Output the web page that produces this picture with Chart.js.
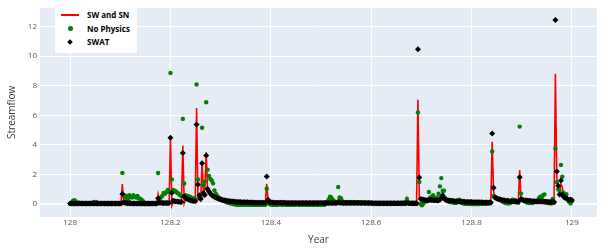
<!DOCTYPE html>
<html>
<head>
<meta charset="utf-8">
<script src="https://cdn.jsdelivr.net/npm/chart.js@4"></script>
<style>
  body { margin: 0; background: #fff; }
  #wrap { position: relative; width: 601px; height: 251px; }
  #legend { position: absolute; left: 55px; top: 8px; width: 82px; height: 45px; background: #fff;
    font-family: "Open Sans", sans-serif; font-weight: bold; font-size: 8px; color: #000; }
  .item { position: absolute; left: 32px; line-height: 10px; }
  .sym { position: absolute; }
</style>
</head>
<body>
<div id="wrap">
  <canvas id="chart" width="601" height="251"></canvas>
  <div id="legend">
    <div class="sym" style="left:6px;top:6px;width:18px;height:2px;background:#ff0000"></div>
    <div class="item" style="top:2px">SW and SN</div>
    <div class="sym" style="left:13px;top:18px;width:5px;height:5px;border-radius:50%;background:#008000"></div>
    <div class="item" style="top:16px">No Physics</div>
    <div class="sym" style="left:13px;top:32px;width:4px;height:4px;transform:rotate(45deg);background:#000"></div>
    <div class="item" style="top:29px">SWAT</div>
  </div>
</div>
<script>
// daily values, one per day of the year starting at 128
const startYear = 128;
const daysInYear = 365;

const swsn = [
  0.04,0.05,0.05,0.05,0.04,0.04,0.05,0.05,0.05,0.04,
  0.04,0.04,0.04,0.05,0.05,0.05,0.05,0.05,0.04,0.04,
  0.04,0.04,0.04,0.04,0.04,0.04,0.04,0.04,0.04,0.04,
  0.04,0.04,0.04,0.04,0.04,0.04,0.04,0.04,1.35,0.05,
  0.06,0.35,0.05,0.30,0.06,0.05,0.05,0.05,0.05,0.05,
  0.04,0.04,0.04,0.04,0.04,0.04,0.04,0.04,0.04,0.04,
  0.04,0.04,0.04,0.04,0.65,0.06,0.06,0.06,0.06,0.06,
  0.06,0.06,0.06,4.50,-0.10,0.15,0.14,0.14,0.13,0.13,
  0.12,0.12,3.95,0.05,0.30,0.28,0.25,0.23,0.21,0.19,
  0.18,0.17,6.49,0.30,0.45,0.30,2.90,0.70,1.00,3.50,
  0.90,0.80,0.68,0.58,0.51,0.45,0.41,0.37,0.34,0.31,
  0.28,0.26,0.24,0.22,0.21,0.20,0.19,0.18,0.17,0.16,
  0.15,0.14,0.14,0.13,0.13,0.12,0.12,0.11,0.11,0.11,
  0.10,0.10,0.10,0.10,0.09,0.09,0.09,0.09,0.09,0.09,
  0.09,0.09,0.09,1.38,0.20,0.12,0.10,0.10,0.09,0.09,
  0.09,0.08,0.08,0.08,0.08,0.08,0.08,0.07,0.07,0.07,
  0.07,0.07,0.07,0.07,0.07,0.07,0.07,0.07,0.07,0.07,
  0.06,0.06,0.06,0.06,0.06,0.06,0.06,0.06,0.06,0.06,
  0.06,0.06,0.06,0.06,0.06,0.06,0.06,0.06,0.06,0.06,
  0.07,0.07,0.07,0.07,0.07,0.30,0.08,0.07,0.07,0.07,
  0.07,0.07,0.07,0.07,0.07,0.06,0.06,0.06,0.06,0.06,
  0.06,0.06,0.06,0.06,0.06,0.06,0.06,0.06,0.06,0.06,
  0.05,0.05,0.05,0.05,0.05,0.05,0.05,0.05,0.05,0.05,
  0.05,0.05,0.05,0.05,0.05,0.05,0.05,0.05,0.05,0.05,
  0.05,0.05,0.05,0.05,0.05,0.40,0.06,0.05,0.05,0.05,
  0.05,0.05,0.05,7.05,0.45,0.28,0.26,0.25,0.24,0.24,
  0.24,0.25,0.50,0.26,0.24,0.23,0.23,0.22,0.23,0.50,
  0.35,0.45,0.32,0.27,0.24,0.22,0.21,0.20,0.19,0.18,
  0.18,0.17,0.17,0.16,0.16,0.15,0.14,0.14,0.13,0.13,
  0.12,0.12,0.12,0.11,0.11,0.11,0.10,0.10,0.10,0.10,
  0.09,0.09,0.09,0.09,0.09,0.09,0.09,4.22,0.90,0.38,
  0.34,0.31,0.28,0.26,0.24,0.22,0.21,0.20,0.19,0.18,
  0.17,0.16,0.16,0.15,0.15,0.14,0.14,2.31,0.30,0.26,
  0.23,0.22,0.21,0.20,0.19,0.18,0.17,0.17,0.16,0.16,
  0.15,0.15,0.15,0.14,0.14,0.14,0.13,0.13,0.13,0.13,
  0.12,0.12,0.12,8.82,1.80,1.10,0.80,1.35,1.15,0.60,
  0.40,0.35,0.30,0.30,0.28,0.27
];

const noPhysics = [
  0.03,0.10,0.22,0.27,0.20,0.08,0.05,0.03,0.02,0.02,
  0.02,0.03,0.02,0.02,0.05,0.03,0.02,0.12,0.15,0.14,
  0.08,0.03,0.02,0.02,0.02,0.02,0.03,0.02,0.02,0.02,
  0.02,0.02,0.02,0.02,0.02,0.03,0.03,0.05,2.10,0.62,
  0.45,0.55,0.40,0.60,0.50,0.45,0.60,0.50,0.45,0.55,
  0.40,0.35,0.30,0.20,0.10,0.05,0.03,0.02,0.02,0.02,
  0.02,0.02,0.02,0.02,2.10,0.30,0.45,0.55,0.75,0.70,
  0.80,0.95,0.85,8.87,1.67,0.95,0.90,0.85,0.75,0.70,
  0.60,0.55,5.76,1.40,0.60,0.55,0.53,0.50,0.45,0.40,
  0.38,0.35,8.09,1.67,0.55,0.47,5.16,1.27,1.53,6.89,
  2.33,1.90,1.70,1.60,1.40,0.93,0.70,0.55,0.45,0.38,
  0.32,0.26,0.21,0.17,0.13,0.10,0.07,0.04,0.02,0.00,
  -0.02,-0.04,-0.05,-0.05,-0.05,-0.05,-0.05,-0.05,-0.05,-0.05,
  -0.05,-0.05,-0.05,-0.05,-0.05,-0.05,-0.05,-0.05,-0.05,-0.05,
  -0.05,-0.05,-0.05,1.04,0.10,0.00,-0.03,-0.05,-0.05,-0.05,
  -0.05,-0.05,-0.03,0.02,-0.05,-0.05,0.05,-0.05,-0.05,-0.05,
  -0.05,-0.05,-0.04,-0.05,-0.05,0.02,-0.05,-0.05,-0.05,-0.05,
  -0.05,-0.05,-0.05,-0.05,-0.05,-0.05,-0.05,-0.05,-0.05,-0.05,
  -0.05,-0.05,-0.05,0.03,-0.05,-0.05,0.05,0.15,0.30,0.50,
  0.45,0.30,0.20,0.10,0.15,1.16,0.45,0.40,0.20,0.15,
  0.12,0.15,0.10,0.14,0.12,0.10,0.15,0.12,0.10,0.13,
  0.10,0.12,0.08,0.10,0.12,0.06,0.08,0.10,0.05,0.08,
  0.05,0.08,0.04,0.06,0.05,0.03,0.05,0.04,0.02,0.04,
  0.03,0.02,0.04,0.02,0.03,0.02,0.02,0.03,0.02,0.02,
  0.02,0.03,0.05,0.08,0.15,0.35,0.10,0.05,0.03,0.02,
  0.02,0.02,0.03,6.20,1.50,0.00,-0.08,0.05,0.15,0.25,
  0.20,0.82,0.45,0.45,0.60,0.40,0.30,0.45,0.70,1.20,
  1.76,0.90,0.90,0.40,0.25,0.20,0.15,0.12,0.15,0.10,
  0.08,0.10,0.20,0.30,0.15,0.08,0.05,0.03,0.02,0.02,
  0.02,0.01,0.00,0.00,0.02,0.00,0.01,0.00,0.02,0.03,
  0.02,0.03,0.02,0.02,0.05,0.05,0.10,3.56,0.55,0.50,
  0.42,0.38,0.33,0.35,0.22,0.15,0.10,0.08,0.06,0.05,
  0.08,0.15,0.30,0.28,0.25,0.12,0.10,5.24,0.71,0.30,
  0.22,0.18,0.12,0.10,0.08,0.10,0.08,0.10,0.15,0.20,
  0.25,0.40,0.50,0.40,0.60,0.66,0.20,0.10,0.08,0.06,
  0.05,0.35,0.10,3.76,1.49,1.00,0.90,2.65,1.85,0.75,
  0.40,0.67,0.30,0.15,0.05,0.20
];

const swat = [
  0.05,0.06,0.05,0.05,0.04,0.05,0.05,0.06,0.05,0.05,
  0.05,0.05,0.04,0.05,0.05,0.05,0.06,0.05,0.05,0.05,
  0.05,0.04,0.05,0.05,0.05,0.05,0.05,0.04,0.05,0.05,
  0.05,0.05,0.05,0.04,0.05,0.05,0.05,0.05,0.68,0.12,
  0.08,0.07,0.06,0.06,0.06,0.05,0.05,0.05,0.05,0.05,
  0.05,0.05,0.05,0.05,0.05,0.05,0.05,0.05,0.05,0.05,
  0.05,0.05,0.05,0.05,0.40,0.10,0.09,0.08,0.08,0.08,
  0.08,0.08,0.08,4.49,0.75,0.22,0.20,0.18,0.17,0.16,
  0.15,0.15,3.45,0.52,0.42,0.36,0.31,0.28,0.25,0.23,
  0.21,0.20,5.38,1.33,0.60,0.35,2.76,0.75,0.62,3.29,
  1.02,0.85,0.72,0.62,0.55,0.49,0.44,0.40,0.36,0.33,
  0.30,0.28,0.26,0.24,0.22,0.21,0.20,0.19,0.18,0.17,
  0.16,0.15,0.15,0.14,0.14,0.13,0.13,0.12,0.12,0.12,
  0.11,0.11,0.11,0.11,0.10,0.10,0.10,0.10,0.10,0.10,
  0.10,0.10,0.10,1.87,0.30,0.14,0.12,0.11,0.10,0.10,
  0.10,0.09,0.09,0.09,0.09,0.09,0.09,0.08,0.08,0.08,
  0.08,0.08,0.08,0.08,0.08,0.08,0.08,0.08,0.08,0.08,
  0.07,0.07,0.07,0.07,0.07,0.07,0.07,0.07,0.07,0.07,
  0.07,0.07,0.07,0.07,0.07,0.07,0.07,0.07,0.08,0.08,
  0.08,0.08,0.08,0.08,0.08,0.12,0.10,0.09,0.08,0.08,
  0.08,0.08,0.08,0.08,0.08,0.07,0.07,0.07,0.07,0.07,
  0.07,0.07,0.07,0.07,0.07,0.07,0.07,0.07,0.07,0.07,
  0.06,0.06,0.06,0.06,0.06,0.06,0.06,0.06,0.06,0.06,
  0.06,0.06,0.06,0.06,0.06,0.06,0.06,0.06,0.06,0.06,
  0.06,0.06,0.06,0.06,0.06,0.08,0.07,0.06,0.06,0.06,
  0.06,0.06,0.06,10.47,1.80,0.35,0.31,0.29,0.28,0.27,
  0.27,0.28,0.30,0.28,0.27,0.26,0.26,0.25,0.26,0.30,
  0.40,0.60,0.38,0.30,0.27,0.25,0.24,0.23,0.22,0.21,
  0.20,0.20,0.19,0.18,0.18,0.17,0.16,0.16,0.15,0.15,
  0.14,0.14,0.14,0.13,0.13,0.13,0.12,0.12,0.12,0.12,
  0.11,0.11,0.11,0.11,0.11,0.11,0.11,4.78,1.11,0.45,
  0.40,0.36,0.33,0.30,0.28,0.26,0.24,0.23,0.22,0.21,
  0.20,0.19,0.18,0.18,0.17,0.17,0.16,1.82,0.35,0.30,
  0.27,0.25,0.24,0.23,0.22,0.21,0.20,0.19,0.19,0.18,
  0.18,0.17,0.17,0.17,0.16,0.16,0.16,0.15,0.15,0.15,
  0.15,0.14,0.14,12.44,2.20,1.25,0.65,1.60,0.65,0.50,
  0.45,0.40,0.32,0.30,0.30,0.28
];

const xTicks = [128, 128.2, 128.4, 128.6, 128.8, 129];
const yTicks = [0, 2, 4, 6, 8, 10, 12];

const toPoints = arr => arr.map((v, i) => ({ x: startYear + i / daysInYear, y: v }));

const plotBg = {
  id: 'plotBg',
  beforeDraw(chart) {
    const { ctx, chartArea: a } = chart;
    ctx.save();
    ctx.fillStyle = '#e5ecf6';
    ctx.fillRect(a.left, a.top, a.right - a.left, a.bottom - a.top);
    ctx.restore();
  }
};

const tickColor = '#555';
const titleColor = '#3a3a3a';
const family = '"Open Sans", sans-serif';

new Chart(document.getElementById('chart').getContext('2d'), {
  type: 'line',
  data: {
    datasets: [
      {
        label: 'SWAT',
        data: toPoints(swat),
        showLine: false,
        pointStyle: 'rectRot',
        pointRadius: 3,
        pointBackgroundColor: '#000',
        pointBorderColor: '#000',
        pointBorderWidth: 0,
        order: 1
      },
      {
        label: 'No Physics',
        data: toPoints(noPhysics),
        showLine: false,
        pointStyle: 'circle',
        pointRadius: 2.2,
        pointBackgroundColor: '#008000',
        pointBorderColor: '#008000',
        pointBorderWidth: 0,
        order: 2
      },
      {
        label: 'SW and SN',
        data: toPoints(swsn),
        borderColor: '#ff0000',
        borderWidth: 1.6,
        pointRadius: 0,
        tension: 0,
        order: 3
      }
    ]
  },
  options: {
    responsive: false,
    animation: false,
    events: [],
    layout: { padding: { top: 5, right: 1, left: 0, bottom: 0 } },
    scales: {
      x: {
        type: 'linear',
        min: 127.94,
        max: 129.05,
        afterFit: s => { s.height = 34; },
        afterBuildTicks: s => { s.ticks = xTicks.map(v => ({ value: v })); },
        grid: { color: '#ffffff', lineWidth: 1, drawTicks: false },
        border: { display: false },
        ticks: {
          padding: 1,
          maxRotation: 0,
          color: tickColor,
          font: { family, size: 8 },
          callback: v => String(+v.toFixed(1))
        },
        title: {
          display: true,
          text: 'Year',
          color: titleColor,
          font: { family, size: 10 },
          padding: { top: 0, bottom: 5 }
        }
      },
      y: {
        min: -0.87,
        max: 13.27,
        afterFit: s => { s.width = 40; },
        afterBuildTicks: s => { s.ticks = yTicks.map(v => ({ value: v })); },
        grid: {
          color: '#ffffff',
          lineWidth: c => (c.tick && c.tick.value === 0 ? 2 : 1),
          drawTicks: false
        },
        border: { display: false },
        ticks: {
          padding: 3,
          color: tickColor,
          font: { family, size: 8 }
        },
        title: {
          display: true,
          text: 'Streamflow',
          color: titleColor,
          font: { family, size: 10 },
          padding: { top: 6, bottom: 0 }
        }
      }
    },
    plugins: {
      legend: { display: false },
      tooltip: { enabled: false }
    }
  },
  plugins: [plotBg]
});
</script>
</body>
</html>
